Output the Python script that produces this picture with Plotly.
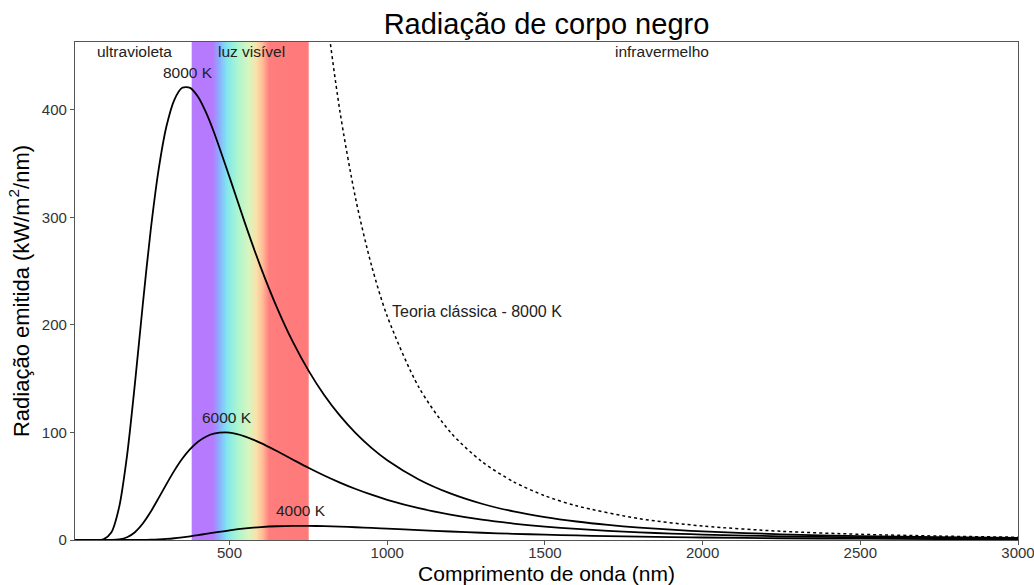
import plotly.graph_objects as go

# ---- data ----
wavelength_nm = [10, 50, 75, 100, 125, 150, 175, 200, 225, 250, 275, 300, 325, 350, 375,
                 400, 425, 450, 500, 550, 600, 650, 700, 750, 800, 850, 900, 950, 1000, 1100, 1200,
                 1300, 1400, 1500, 1600, 1700, 1800, 1900, 2000, 2250, 2500, 2750, 3000]

rad_8000K = [0, 0, 0.01, 0.58, 6.9, 30.6, 78.5, 145.4, 219.2, 288.0, 344.1, 384.6, 409.3, 420.4, 420.4,
             412.1, 397.8, 379.6, 337.4, 293.7, 252.8, 216.3, 184.6, 157.7, 134.8, 115.6, 99.4, 85.7, 74.2,
             56.3, 43.3, 33.7, 26.6, 21.3, 17.2, 14.0, 11.5, 9.6, 8.0, 5.3, 3.64, 2.58, 1.88]

rad_6000K = [0, 0, 0, 0.0, 0.06, 0.56, 2.55, 7.26, 15.3, 26.2, 38.9, 52.0, 64.5, 75.5, 84.4,
             91.3, 96.0, 98.8, 99.8, 96.2, 90.1, 82.7, 74.9, 67.2, 60.0, 53.4, 47.4, 42.1, 37.4,
             29.6, 23.6, 18.9, 15.3, 12.5, 10.3, 8.5, 7.1, 5.97, 5.05, 3.41, 2.38, 1.71, 1.26]

rad_4000K = [0, 0, 0, 0, 0, 0, 0, 0.02, 0.07, 0.22, 0.50, 0.96, 1.61, 2.45, 3.45,
             4.54, 5.70, 6.85, 9.0, 10.76, 12.02, 12.79, 13.14, 13.14, 12.88, 12.43, 11.86, 11.22, 10.54,
             9.18, 7.90, 6.76, 5.77, 4.93, 4.21, 3.61, 3.11, 2.68, 2.32, 1.64, 1.19, 0.88, 0.66]

classic_wavelength_nm = [700, 750, 800, 850, 900, 950, 1000, 1100, 1200, 1300, 1400, 1500,
                         1600, 1800, 2000, 2250, 2500, 2750, 3000]
classic_8000K = [866.5, 657.6, 508.0, 398.6, 317.1, 255.4, 208.1, 142.1, 100.3, 72.9, 54.2, 41.1,
                 31.8, 19.8, 13.0, 8.1, 5.3, 3.64, 2.57]

# visible band (nm) and its colours
visible_start, visible_end, visible_step = 380, 750, 2
band_stops_nm = [380, 448, 465, 490, 520, 560, 585, 605, 625, 750]
band_colors = ["rgb(182,122,255)", "rgb(182,122,255)", "rgb(140,170,255)", "rgb(128,228,240)",
               "rgb(165,245,210)", "rgb(215,245,190)", "rgb(250,225,170)", "rgb(255,185,150)",
               "rgb(255,125,125)", "rgb(255,122,122)"]

x_ticks = [500, 1000, 1500, 2000, 2500, 3000]
y_ticks = [0, 100, 200, 300, 400]

FONT = "Liberation Sans, Arial, sans-serif"

fig = go.Figure()

# spectrum band as heatmap
edges = list(range(visible_start, visible_end + 1, visible_step))
centers = [(a + b) / 2 for a, b in zip(edges[:-1], edges[1:])]
cs = [[(w - visible_start) / (visible_end - visible_start), c] for w, c in zip(band_stops_nm, band_colors)]
fig.add_trace(go.Heatmap(
    x=edges, y=[-50, 600], z=[centers],
    colorscale=cs, zmin=visible_start, zmax=visible_end,
    showscale=False, hoverinfo="skip", zsmooth=False,
))

line_style = dict(color="black", width=1.8, shape="spline", smoothing=0.8)
for vals in (rad_8000K, rad_6000K, rad_4000K):
    fig.add_trace(go.Scatter(x=wavelength_nm, y=vals, mode="lines", line=line_style,
                             showlegend=False, hoverinfo="skip"))

fig.add_trace(go.Scatter(x=classic_wavelength_nm, y=classic_8000K, mode="lines",
                         line=dict(color="black", width=1.5, dash="dot", shape="spline", smoothing=0.8),
                         showlegend=False, hoverinfo="skip"))

labels = [
    ("ultravioleta", 200, 454, 15.5, "center"),
    ("luz visível", 571, 454, 15.5, "center"),
    ("infravermelho", 1871, 454, 15.5, "center"),
    ("8000 K", 368, 435, 15.5, "center"),
    ("6000 K", 492, 114, 15.5, "center"),
    ("4000 K", 727, 27, 15.5, "center"),
    ("Teoria clássica - 8000 K", 1009, 212, 16, "left"),
]
for text, x, y, size, anchor in labels:
    fig.add_annotation(x=x, y=y, text=text, showarrow=False, xanchor=anchor, yanchor="middle",
                       font=dict(family=FONT, size=size, color="#222"))

axis_common = dict(showline=True, linecolor="#555", linewidth=1.3, mirror=True, automargin=False,
                   ticks="outside", ticklen=4, tickcolor="#555", showgrid=False, zeroline=False,
                   ticklabeloverflow="allow",
                   tickfont=dict(family=FONT, size=15, color="#333"))

fig.update_layout(
    width=1034, height=585,
    margin=dict(l=75, r=16, t=42, b=45),
    paper_bgcolor="white", plot_bgcolor="white",
    title=dict(text="Radiação de corpo negro", x=0.5285, xanchor="center", y=0.96, yanchor="middle",
               font=dict(family=FONT, size=29, color="black")),
    xaxis=dict(range=[10, 3000], tickvals=x_ticks, ticklabelstandoff=-5,
               title=dict(text="Comprimento de onda (nm)",
                          font=dict(family=FONT, size=21, color="black")),
               **axis_common),
    yaxis=dict(range=[0, 463], tickvals=y_ticks,
               title=dict(text="Radiação emitida (kW/m<sup>2</sup>/nm)", standoff=6,
                          font=dict(family=FONT, size=22, color="black")),
               **axis_common),
)

fig.write_html("out.html")
